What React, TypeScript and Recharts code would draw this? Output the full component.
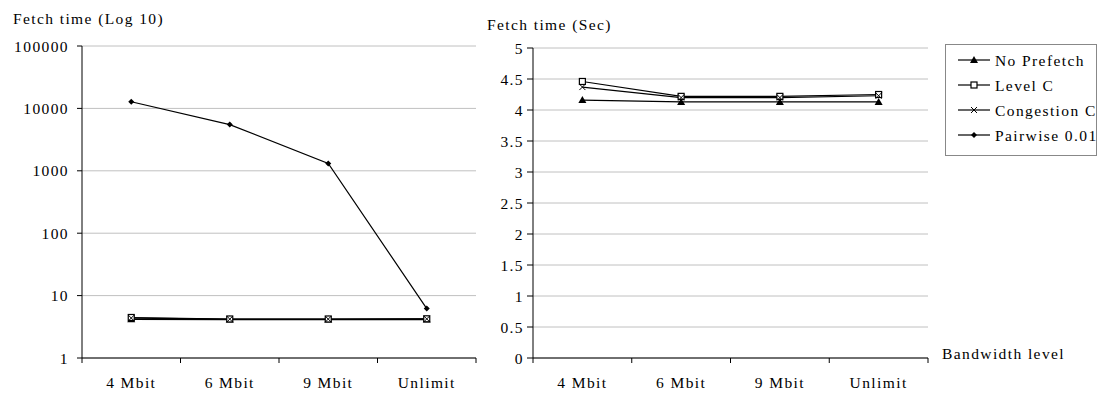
import React from 'react';
import { LineChart, Line, XAxis, YAxis, CartesianGrid } from 'recharts';

// bandwidth levels on the x axis
const categories = ['4 Mbit', '6 Mbit', '9 Mbit', 'Unlimit'];

// fetch time (sec) per prefetch scheme
const noPrefetch = [4.16, 4.13, 4.13, 4.13];
const levelC = [4.46, 4.22, 4.22, 4.25];
const congestionC = [4.37, 4.2, 4.2, 4.23];
const pairwise = [12800, 5500, 1310, 6.2];

const logTicks = [1, 10, 100, 1000, 10000, 100000];
const secTicks = [0, 0.5, 1, 1.5, 2, 2.5, 3, 3.5, 4, 4.5, 5];

const seriesNames = ['No Prefetch', 'Level C', 'Congestion C', 'Pairwise 0.01'];

const FONT = "'Liberation Serif', serif";
const FS = 15.5;
const LS = 1.4;
const GRID = '#c0c0c0';

const data = categories.map((name, i) => ({
  name,
  noPrefetch: noPrefetch[i],
  levelC: levelC[i],
  congestionC: congestionC[i],
  pairwise: pairwise[i],
}));

type MarkerProps = { cx: number; cy: number };

const Triangle = ({ cx, cy }: MarkerProps) => (
  <path d={`M${cx},${cy - 4}L${cx + 4},${cy + 3}L${cx - 4},${cy + 3}Z`} fill="#000" />
);
const Square = ({ cx, cy }: MarkerProps) => (
  <rect x={cx - 3} y={cy - 3} width={6} height={6} fill="#fff" stroke="#000" strokeWidth={1.2} />
);
const Cross = ({ cx, cy }: MarkerProps) => (
  <path d={`M${cx - 3},${cy - 3}L${cx + 3},${cy + 3}M${cx - 3},${cy + 3}L${cx + 3},${cy - 3}`} stroke="#000" strokeWidth={1} />
);
const Diamond = ({ cx, cy }: MarkerProps) => (
  <path d={`M${cx},${cy - 3}L${cx + 3},${cy}L${cx},${cy + 3}L${cx - 3},${cy}Z`} fill="#000" />
);

const markers = [Triangle, Square, Cross, Diamond];

const dotOf = (Marker: (p: MarkerProps) => React.ReactElement) => (p: any) => (
  <Marker key={`m-${p.index}`} cx={p.cx} cy={p.cy} />
);

// category ticks sit between the bands, like the spreadsheet original
const makeTick = (band: number) => (props: any) => {
  const { x, y, payload, index } = props;
  const left = x - band / 2;
  return (
    <g>
      <line x1={left} y1={y} x2={left} y2={y + 5} stroke="#000" />
      {index === categories.length - 1 && (
        <line x1={x + band / 2} y1={y} x2={x + band / 2} y2={y + 5} stroke="#000" />
      )}
      <text x={x} y={y + 30} textAnchor="middle" fill="#000" fontSize={FS} fontFamily={FONT} letterSpacing={LS}>
        {payload.value}
      </text>
    </g>
  );
};

const tickStyle = { fill: '#000', fontSize: FS, fontFamily: FONT, letterSpacing: LS };

const textStyle: React.CSSProperties = {
  position: 'absolute',
  fontFamily: FONT,
  fontSize: FS,
  letterSpacing: LS,
  lineHeight: '17px',
  whiteSpace: 'nowrap',
  color: '#000',
};

const seriesLines = (yId: string, withPairwise: boolean) => {
  const keys = ['noPrefetch', 'levelC', 'congestionC', 'pairwise'];
  return keys
    .filter((k) => withPairwise || k !== 'pairwise')
    .map((k, i) => (
      <Line
        key={k}
        yAxisId={yId}
        type="linear"
        dataKey={k}
        name={seriesNames[i]}
        stroke="#000"
        strokeWidth={1.2}
        dot={dotOf(markers[i])}
        activeDot={false}
        isAnimationActive={false}
      />
    ));
};

const LEFT_PLOT = 394;
const RIGHT_PLOT = 395;

const LogChart = () => (
  <LineChart width={478} height={394} data={data} margin={{ top: 46, right: 2, left: 0, bottom: 0 }}>
    <CartesianGrid yAxisId="v" vertical={false} stroke={GRID} />
    <XAxis
      dataKey="name"
      height={36}
      padding={{ left: LEFT_PLOT / 8, right: LEFT_PLOT / 8 }}
      axisLine={{ stroke: '#000' }}
      tickLine={false}
      tickSize={0}
      tickMargin={0}
      tick={makeTick(LEFT_PLOT / 4)}
    />
    <YAxis
      yAxisId="v"
      scale="log"
      domain={[1, 100000]}
      ticks={logTicks}
      allowDataOverflow
      width={82}
      axisLine={{ stroke: '#000' }}
      tickLine={{ stroke: '#000' }}
      tickSize={5}
      tickMargin={8}
      tick={tickStyle}
    />
    <YAxis yAxisId="border" orientation="right" width={0} axisLine={{ stroke: '#999' }} tick={false} tickLine={false} />
    {seriesLines('v', true)}
  </LineChart>
);

const SecChart = () => (
  <LineChart width={460} height={394} data={data} margin={{ top: 48, right: 2, left: 0, bottom: 0 }}>
    <CartesianGrid yAxisId="v" vertical={false} stroke={GRID} />
    <XAxis
      dataKey="name"
      height={36}
      padding={{ left: RIGHT_PLOT / 8, right: RIGHT_PLOT / 8 }}
      axisLine={{ stroke: '#000' }}
      tickLine={false}
      tickSize={0}
      tickMargin={0}
      tick={makeTick(RIGHT_PLOT / 4)}
    />
    <YAxis
      yAxisId="v"
      domain={[0, 5]}
      ticks={secTicks}
      width={63}
      axisLine={{ stroke: '#000' }}
      tickLine={{ stroke: '#000' }}
      tickSize={6}
      tickMargin={3}
      tick={tickStyle}
    />
    <YAxis yAxisId="border" orientation="right" width={0} axisLine={{ stroke: '#999' }} tick={false} tickLine={false} />
    {seriesLines('v', false)}
  </LineChart>
);

const LegendBox = () => (
  <div
    style={{
      position: 'absolute',
      left: 945,
      top: 44,
      width: 150,
      height: 110,
      border: '1px solid #888',
      background: '#fff',
    }}
  >
    {seriesNames.map((name, i) => {
      const Marker = markers[i];
      return (
        <div
          key={name}
          style={{ position: 'absolute', left: 12, top: 5 + i * 25, height: 20, display: 'flex', alignItems: 'center' }}
        >
          <svg width={32} height={12}>
            <line x1={0} y1={6} x2={32} y2={6} stroke="#000" strokeWidth={1.2} />
            <Marker cx={16} cy={6} />
          </svg>
          <span style={{ ...textStyle, position: 'static', marginLeft: 5 }}>{name}</span>
        </div>
      );
    })}
  </div>
);

const App = () => (
  <div
    style={{
      position: 'absolute',
      left: 0,
      top: 0,
      width: 1098,
      height: 394,
      background: '#fff',
      fontFamily: FONT,
      overflow: 'hidden',
    }}
  >
    <div style={{ position: 'absolute', left: 0, top: 0 }}>
      <LogChart />
    </div>
    <div style={{ position: 'absolute', left: 470, top: 0 }}>
      <SecChart />
    </div>
    <div style={{ ...textStyle, left: 13, top: 10 }}>Fetch time (Log 10)</div>
    <div style={{ ...textStyle, left: 487, top: 16 }}>Fetch time (Sec)</div>
    <div style={{ ...textStyle, left: 942, top: 345 }}>Bandwidth level</div>
    <LegendBox />
  </div>
);

export default App;
